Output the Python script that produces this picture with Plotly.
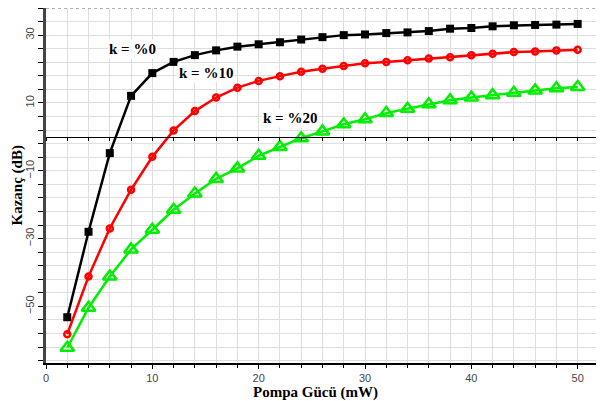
import plotly.graph_objects as go

pump_mw = [2, 4, 6, 8, 10, 12, 14, 16, 18, 20, 22, 24, 26, 28, 30, 32, 34, 36, 38, 40, 42, 44, 46, 48, 50]
gain_k0 = [-53.2, -28.0, -4.8, 12.1, 18.8, 22.1, 24.1, 25.5, 26.6, 27.3, 27.9, 28.7, 29.4, 30.0, 30.2, 30.6,
           30.8, 31.2, 31.9, 32.1, 32.6, 32.9, 33.0, 33.1, 33.3]
gain_k10 = [-58.2, -41.2, -27.0, -15.6, -5.9, 1.9, 7.6, 11.6, 14.5, 16.5, 17.9, 19.2, 20.1, 20.9, 21.7, 22.1,
            22.6, 23.1, 23.5, 24.1, 24.5, 25.0, 25.2, 25.5, 25.7]
gain_k20 = [-62.2, -50.4, -41.2, -33.2, -27.4, -21.5, -16.7, -12.4, -9.3, -5.6, -3.0, -0.4, 1.6, 3.7, 5.2, 7.0,
            8.3, 9.6, 10.8, 11.6, 12.3, 13.0, 13.7, 14.3, 14.7]
series_labels = ["k = %0", "k = %10", "k = %20"]
label_pos = [(8.1, 25.9), (15.0, 18.8), (22.9, 5.6)]
x_title = "Pompa Gücü (mW)"
y_title = "Kazanç (dB)"

fig = go.Figure()
fig.add_trace(go.Scatter(x=pump_mw, y=gain_k0, mode="lines+markers",
                         line=dict(color="black", width=2.5),
                         marker=dict(symbol="square", size=8, color="black")))
fig.add_trace(go.Scatter(x=pump_mw, y=gain_k10, mode="lines+markers",
                         line=dict(color="#ff0000", width=2.5),
                         marker=dict(symbol="circle-open", size=6, color="#ff0000", line=dict(width=2.5))))
fig.add_trace(go.Scatter(x=pump_mw, y=gain_k20, mode="lines+markers",
                         line=dict(color="#00ee00", width=2.5),
                         marker=dict(symbol="triangle-up-open", size=12, color="#00ee00", line=dict(width=2.5))))
# invisible trace for the zero-line axis with ticks
fig.add_trace(go.Scatter(x=[0, 52.1], y=[0, 0], xaxis="x2", mode="lines",
                         line=dict(color="rgba(0,0,0,0)"), hoverinfo="skip"))

for (lx, ly), txt in zip(label_pos, series_labels):
    fig.add_annotation(x=lx, y=ly, text="<b>" + txt + "</b>", showarrow=False, bgcolor="white",
                       font=dict(family="Liberation Serif", size=15, color="black"),
                       borderpad=1)

fig.add_annotation(xref="paper", yref="paper", x=0.486, y=0, yshift=-29, yanchor="middle",
                   text="<b>" + x_title + "</b>", showarrow=False,
                   font=dict(family="Liberation Serif", size=15, color="black"))
fig.add_annotation(xref="paper", yref="paper", x=0, xshift=-29, y=0.5, xanchor="center", yanchor="middle",
                   text="<b>" + y_title + "</b>", showarrow=False, textangle=-90,
                   font=dict(family="Liberation Serif", size=15, color="black"))

YR = [-66.7, 38]
fig.update_layout(
    width=596, height=393,
    margin=dict(l=38, r=4, t=0, b=38),
    paper_bgcolor="white", plot_bgcolor="white",
    showlegend=False,
    xaxis=dict(range=[0, 52.1], dtick=10, tick0=0, showgrid=True, gridcolor="#dddddd", gridwidth=1,
               ticks="outside", ticklen=4, tickcolor="black", automargin=False,
               minor=dict(dtick=2, tick0=0, showgrid=True, gridcolor="#dddddd", ticks="outside",
                          ticklen=3, tickcolor="black"),
               showline=True, linecolor="black", linewidth=1.5, zeroline=False,
               tickfont=dict(family="Liberation Sans", size=11, color="#444444")),
    xaxis2=dict(overlaying="x", matches="x", anchor="free", position=(0 - YR[0]) / (YR[1] - YR[0]),
                side="bottom", showline=True, linecolor="black", linewidth=1, automargin=False,
                ticks="outside", ticklen=3, tickcolor="black", dtick=2, tick0=0,
                showticklabels=False, showgrid=False, zeroline=False),
    yaxis=dict(range=YR, dtick=20, tick0=-50, showgrid=True, gridcolor="#dddddd", gridwidth=1,
               ticks="outside", ticklen=5, tickcolor="black", tickangle=-90, automargin=False,
               ticklabelstandoff=0,
               minor=dict(dtick=4, tick0=-50, showgrid=True, gridcolor="#dddddd", ticks="outside",
                          ticklen=5, tickcolor="black"),
               showline=True, linecolor="#444444", linewidth=3, zeroline=False,
               tickfont=dict(family="Liberation Sans", size=11, color="#444444")),
    shapes=[
        dict(type="line", xref="paper", yref="paper", x0=0, x1=1, y0=1, y1=1,
             line=dict(color="#999999", width=1.5, dash="dot")),
        dict(type="line", xref="paper", yref="paper", x0=1, x1=1, y0=0, y1=1,
             line=dict(color="#bbbbbb", width=1)),
    ],
)

fig.write_html("out.html")
